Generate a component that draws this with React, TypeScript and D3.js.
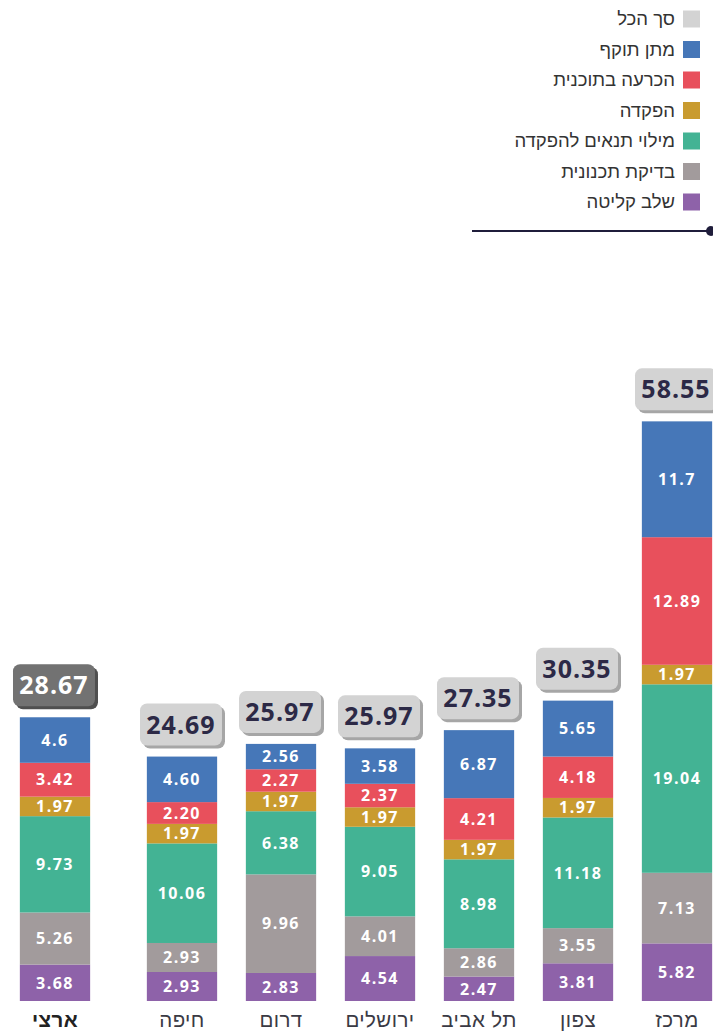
import React from "react";
import * as d3 from "d3";

const categories = ["ארצי", "חיפה", "דרום", "ירושלים", "תל אביב", "צפון", "מרכז"];
const totals = [28.67, 24.69, 25.97, 25.97, 27.35, 30.35, 58.55];

// stacked bottom -> top
const intake = [3.68, 2.93, 2.83, 4.54, 2.47, 3.81, 5.82]; // שלב קליטה
const planningCheck = [5.26, 2.93, 9.96, 4.01, 2.86, 3.55, 7.13]; // בדיקת תכנונית
const conditions = [9.73, 10.06, 6.38, 9.05, 8.98, 11.18, 19.04]; // מילוי תנאים להפקדה
const deposit = [1.97, 1.97, 1.97, 1.97, 1.97, 1.97, 1.97]; // הפקדה
const decision = [3.42, 2.2, 2.27, 2.37, 4.21, 4.18, 12.89]; // הכרעה בתוכנית
const validity = [4.6, 4.6, 2.56, 3.58, 6.87, 5.65, 11.7]; // מתן תוקף
const validityDecimals = [1, 2, 2, 2, 2, 2, 1];

const seriesKeys = ["intake", "planningCheck", "conditions", "deposit", "decision", "validity"];
const seriesValues: Record<string, number[]> = { intake, planningCheck, conditions, deposit, decision, validity };
const seriesColors: Record<string, string> = {
  intake: "#8e62a9",
  planningCheck: "#a29b9c",
  conditions: "#43b394",
  deposit: "#c99b2f",
  decision: "#e8505c",
  validity: "#4677b8",
};

const legendLabels = ["סך הכל", "מתן תוקף", "הכרעה בתוכנית", "הפקדה", "מילוי תנאים להפקדה", "בדיקת תכנונית", "שלב קליטה"];
const legendColors = ["#d3d3d3", "#4677b8", "#e8505c", "#c99b2f", "#43b394", "#a29b9c", "#8e62a9"];

const W = 713;
const H = 1035;

export default function App() {
  const regions = categories.slice(1);
  const xRegion = d3.scaleBand<string>().domain(regions).range([132, 727]).paddingInner(0.29).paddingOuter(0.15);
  const bw = xRegion.bandwidth();
  const xPos = (c: string) => (c === categories[0] ? (xRegion(regions[0]) as number) - 127 : (xRegion(c) as number));
  const y = d3.scaleLinear().domain([0, 60]).range([1001, 1001 - 60 * 9.9]);

  const rows = categories.map((c, i) => {
    const r: any = { cat: c, idx: i };
    seriesKeys.forEach((k) => (r[k] = seriesValues[k][i]));
    return r;
  });
  const stacked = d3.stack<any>().keys(seriesKeys)(rows);

  const segFont = "'Open Sans', 'DejaVu Sans', sans-serif";
  const hebFont = "'Liberation Sans', 'DejaVu Sans', sans-serif";

  const boxW = 82;
  const boxH = 42;

  return (
    <div style={{ position: "absolute", left: 0, top: 0 }}>
      <svg width={W} height={H} style={{ display: "block" }}>
        <rect width={W} height={H} fill="#ffffff" />
        {/* legend */}
        {legendLabels.map((l, i) => {
          const cy = 19 + i * 30.5;
          return (
            <g key={l}>
              <rect x={683} y={cy - 8.5} width={17} height={17} fill={legendColors[i]} />
              <text x={675} y={cy} dy="0.35em" textAnchor="end" fontFamily={hebFont} fontSize={18.5} fill="#333">
                {l}
              </text>
            </g>
          );
        })}
        <line x1={472} x2={708} y1={231} y2={231} stroke="#1f1d3b" strokeWidth={2} />
        <circle cx={711} cy={231} r={5} fill="#1f1d3b" />

        {/* bars */}
        {stacked.map((s) => (
          <g key={s.key}>
            {s.map((d, i) => {
              const c = categories[i];
              const x0 = xPos(c);
              const top = y(d[1]);
              const bot = y(d[0]);
              const v = d[1] - d[0];
              const dec = s.key === "validity" ? validityDecimals[i] : 2;
              return (
                <g key={c}>
                  <rect x={x0} y={top} width={bw} height={bot - top} fill={seriesColors[s.key]} />
                  <text
                    x={x0 + bw / 2}
                    y={(top + bot) / 2}
                    dy="0.36em"
                    textAnchor="middle"
                    fontFamily={segFont}
                    fontWeight={700}
                    fontSize={16}
                    letterSpacing={1.5}
                    fill="#ffffff"
                  >
                    {v.toFixed(dec)}
                  </text>
                </g>
              );
            })}
          </g>
        ))}

        {/* total boxes */}
        {categories.map((c, i) => {
          const top = y(stacked[stacked.length - 1][i][1]);
          const cx = xPos(c) + bw / 2;
          const bx = cx - boxW / 2 - 1;
          const by = top - 8 - boxH - 3;
          const national = i === 0;
          return (
            <g key={c}>
              <rect x={bx + 3} y={by + 3} width={boxW} height={boxH} rx={7} fill={national ? "#4f4f4f" : "#a6a6a6"} />
              <rect x={bx} y={by} width={boxW} height={boxH} rx={7} fill={national ? "#727272" : "#d3d3d3"} />
              <text
                x={bx + boxW / 2}
                y={by + boxH / 2}
                dy="0.36em"
                textAnchor="middle"
                fontFamily={segFont}
                fontWeight={700}
                fontSize={25}
                letterSpacing={1}
                fill={national ? "#ffffff" : "#2c2946"}
              >
                {totals[i].toFixed(2)}
              </text>
            </g>
          );
        })}

        {/* category labels */}
        {categories.map((c, i) => (
          <text
            key={c}
            x={xPos(c) + bw / 2}
            y={1020}
            dy="0.36em"
            textAnchor="middle"
            fontFamily={hebFont}
            fontWeight={i === 0 ? 700 : 400}
            fontSize={20.5}
            letterSpacing={0.4}
            fill={i === 0 ? "#222" : "#3a3a44"}
          >
            {c}
          </text>
        ))}
      </svg>
    </div>
  );
}
